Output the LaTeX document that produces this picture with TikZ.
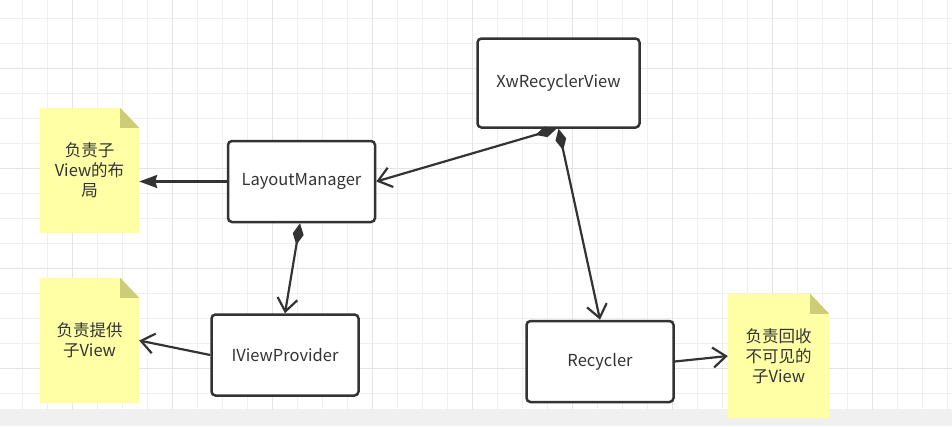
\documentclass[tikz,border=0pt]{standalone}
\usepackage{fontspec}
\setmainfont{Noto Sans CJK SC}
\usetikzlibrary{arrows.meta}
\definecolor{ink}{HTML}{333333}
\definecolor{gridminor}{HTML}{EFEFEF}
\definecolor{gridmajor}{HTML}{E4E4E4}
\definecolor{band}{HTML}{F0F0F0}
\definecolor{notefill}{HTML}{FFFFA6}
\definecolor{notefold}{HTML}{CDCD78}
\tikzset{
  box/.style={draw=ink, line width=2.5pt, rounded corners=4pt, fill=white, text=ink,
    font=\fontsize{16.5}{20}\selectfont},
  notebox/.style={inner sep=0pt, text=ink, align=center,
    font=\fontsize{16.5}{20}\selectfont},
  conn/.style={draw=ink, line width=2.2pt},
  openhead/.style={-{Straight Barb[length=13pt,width=20pt,line width=2.2pt]}},
  filledhead/.style={-{Stealth[length=18pt,width=13pt,inset=2pt]}},
  diaopen/.style={{Diamond[length=22pt,width=11pt]}-{Straight Barb[length=13pt,width=20pt,line width=2.2pt]}}
}
\newcommand{\notebg}[1]{%
  \fill[notefill] (#1.north west) -- ([xshift=-19pt]#1.north east) -- ([yshift=-20pt]#1.north east) -- (#1.south east) -- (#1.south west) -- cycle;
  \fill[notefold] ([xshift=-19pt]#1.north east) -- ([yshift=-20pt]#1.north east) -- ([xshift=-19pt,yshift=-20pt]#1.north east) -- cycle;
}
\begin{document}
\begin{tikzpicture}[x=1pt,y=-1pt]
\useasboundingbox (0,0) rectangle (952,426);
\fill[white] (0,0) rectangle (952,426);
% grid
\foreach \i in {0,...,37} {\draw[gridminor, line width=1pt] ({22.7+25*\i},0) -- ({22.7+25*\i},409);}
\foreach \j in {0,...,15} {\draw[gridminor, line width=1pt] (0,{18.3+25*\j}) -- (952,{18.3+25*\j});}
\foreach \i in {0,...,8} {\draw[gridmajor, line width=1pt] ({72.7+100*\i},0) -- ({72.7+100*\i},409);}
\foreach \j in {0,...,3} {\draw[gridmajor, line width=1pt] (0,{68.3+100*\j}) -- (952,{68.3+100*\j});}
\fill[band] (0,409) rectangle (952,426);

% notes
\node[notebox, minimum width=99pt, minimum height=125pt] (n1) at (89.5,170.5) {};
\notebg{n1}
\node[notebox] at (n1.center) {负责子\\View的布\\局};
\node[notebox, minimum width=99pt, minimum height=125pt] (n2) at (89.5,340.5) {};
\notebg{n2}
\node[notebox] at (n2.center) {负责提供\\子View};
\node[notebox, minimum width=101pt, minimum height=124pt] (n3) at (778.5,356) {};
\notebg{n3}
\node[notebox] at (n3.center) {负责回收\\不可见的\\子View};

% boxes
\node[box, minimum width=162pt, minimum height=89pt] (xw) at (558.5,83) {XwRecyclerView};
\node[box, minimum width=147pt, minimum height=81pt] (lm) at (301.5,181.5) {LayoutManager};
\node[box, minimum width=147pt, minimum height=81pt] (ivp) at (285,355) {IViewProvider};
\node[box, minimum width=147pt, minimum height=81pt] (rec) at (600,361.5) {Recycler};

% connectors
\draw[conn, filledhead] (lm.west) -- (n1.east |- lm.west);
\draw[conn, diaopen] ([xshift=-2pt]xw.south) -- (lm.east);
\draw[conn, diaopen] (xw.south) -- (rec.north);
\draw[conn, diaopen] ([xshift=-1.5pt]lm.south) -- (ivp.north);
\draw[conn, openhead] (ivp.west) -- (n2.east);
\draw[conn, openhead] (rec.east) -- (n3.west);
\end{tikzpicture}
\end{document}
